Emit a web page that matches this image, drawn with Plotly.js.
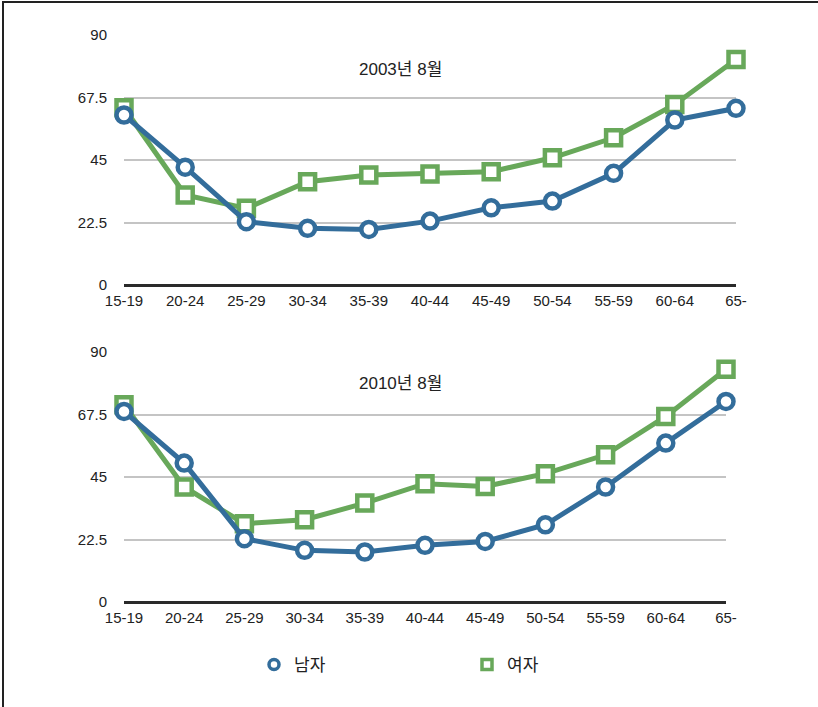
<!DOCTYPE html>
<html>
<head>
<meta charset="utf-8">
<script src="https://cdn.plot.ly/plotly-3.0.1.min.js"></script>
<style>
  html, body { margin: 0; padding: 0; background: #fff; }
  #wrap { position: relative; width: 818px; height: 707px; }
  #chart { width: 818px; height: 707px; }
  #frame { position: absolute; left: 2px; top: 1px; width: 816px; height: 706px;
           border-top: 2px solid #222; border-left: 2px solid #222; pointer-events: none; box-sizing: border-box; }
</style>
</head>
<body>
<div id="wrap">
  <div id="chart"></div>
  <div id="frame"></div>
</div>
<script>
const categories = ["15-19","20-24","25-29","30-34","35-39","40-44","45-49","50-54","55-59","60-64","65-"];
const men2003   = [61.2, 42.4, 22.8, 20.4, 20.0, 23.0, 27.8, 30.2, 40.2, 59.4, 63.6];
const women2003 = [63.8, 32.4, 27.6, 37.2, 39.6, 40.0, 40.8, 45.8, 53.0, 65.0, 81.2];
const men2010   = [68.6, 50.0, 22.8, 18.6, 18.0, 20.4, 21.8, 27.8, 41.4, 57.2, 72.2];
const women2010 = [71.0, 41.4, 28.2, 29.6, 35.6, 42.6, 41.6, 46.2, 53.0, 66.8, 83.8];
const yTicks = [0, 22.5, 45, 67.5, 90];
const yTickText = ["0", "22.5", "45", "67.5", "90"];
const titles = ["2003년 8월", "2010년 8월"];
const seriesNames = ["남자", "여자"];

const blue = "#336d9b";
const green = "#68a85a";
const font = "Liberation Sans, Arial, Noto Sans CJK KR, sans-serif";

function lineTrace(y, color, symbol, xa, ya) {
  return {
    x: categories, y: y, xaxis: xa, yaxis: ya,
    type: "scatter", mode: "lines+markers", showlegend: false, cliponaxis: false,
    line: { color: color, width: 5 },
    marker: { symbol: symbol, size: 15, color: "#ffffff", line: { color: color, width: 4.5 } },
    hoverinfo: "x+y"
  };
}

const data = [
  lineTrace(women2003, green, "square", "x", "y"),
  lineTrace(men2003, blue, "circle", "x", "y"),
  lineTrace(women2010, green, "square", "x2", "y2"),
  lineTrace(men2010, blue, "circle", "x2", "y2"),
  { x: [null], y: [null], type: "scatter", mode: "markers", name: seriesNames[0], xaxis: "x2", yaxis: "y2",
    marker: { symbol: "circle", size: 10, color: "#ffffff", line: { color: blue, width: 3.5 } } },
  { x: [null], y: [null], type: "scatter", mode: "markers", name: seriesNames[1], xaxis: "x2", yaxis: "y2",
    marker: { symbol: "square", size: 10, color: "#ffffff", line: { color: green, width: 3.5 } } }
];

const W = 818, H = 707;
function dx(a, b) { return [a / W, b / W]; }
function dy(top, bottom) { return [1 - bottom / H, 1 - top / H]; }

const xBase = {
  type: "category", range: [0, 10], showgrid: false, zeroline: false, showline: false,
  ticks: "", tickfont: { family: font, size: 15, color: "#222" }, ticklabelstandoff: 5, fixedrange: true
};
const yBase = {
  range: [0, 90], tickvals: yTicks, ticktext: yTickText, showgrid: true, gridcolor: "#c4c4c4", gridwidth: 1.5,
  zeroline: true, zerolinecolor: "#2a2a2a", zerolinewidth: 2.5, showline: false, ticks: "",
  tickfont: { family: font, size: 15, color: "#222" }, ticklabelstandoff: 16, fixedrange: true
};

const layout = {
  width: W, height: H,
  margin: { l: 0, r: 0, t: 0, b: 0 },
  paper_bgcolor: "#ffffff", plot_bgcolor: "#ffffff",
  font: { family: font, color: "#222" },
  xaxis: Object.assign({}, xBase, { domain: dx(124, 736), anchor: "y" }),
  yaxis: Object.assign({}, yBase, { domain: dy(35, 285), anchor: "x" }),
  xaxis2: Object.assign({}, xBase, { domain: dx(124, 726), anchor: "y2" }),
  yaxis2: Object.assign({}, yBase, { domain: dy(352, 602), anchor: "x2" }),
  annotations: [
    { text: titles[0], xref: "paper", yref: "paper", x: 400 / W, y: 1 - 70 / H, xanchor: "center", yanchor: "middle",
      showarrow: false, font: { family: font, size: 17, color: "#222" } },
    { text: titles[1], xref: "paper", yref: "paper", x: 400 / W, y: 1 - 383 / H, xanchor: "center", yanchor: "middle",
      showarrow: false, font: { family: font, size: 17, color: "#222" } }
  ],
  showlegend: true,
  legend: {
    orientation: "h", x: 254 / W, y: 1 - 665 / H, xanchor: "left", yanchor: "middle",
    entrywidth: 168, entrywidthmode: "pixels",
    font: { family: font, size: 17, color: "#222" }, bgcolor: "rgba(0,0,0,0)", borderwidth: 0
  },
  hovermode: "closest"
};

Plotly.newPlot("chart", data, layout, { displayModeBar: false, staticPlot: false });
</script>
</body>
</html>
